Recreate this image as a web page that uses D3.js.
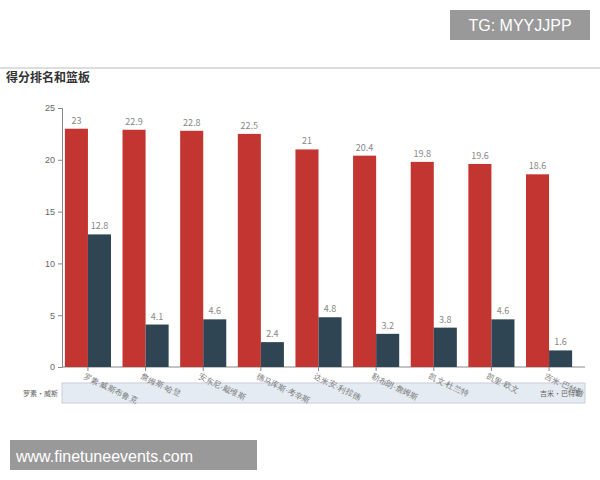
<!DOCTYPE html><html><head><meta charset="utf-8"><script src="https://cdn.jsdelivr.net/npm/d3@7"></script>
<style>body{margin:0;background:#fff;font-family:"Noto Sans CJK SC","Noto Sans",sans-serif}</style></head><body><svg width="600" height="480"></svg>
<script>
const players=["罗素·威斯布鲁克","詹姆斯·哈登","安东尼·戴维斯","德马库斯·考辛斯","达米安·利拉德","勒布朗·詹姆斯","凯文·杜兰特","凯里·欧文","吉米·巴特勒"];
const points=[23,22.9,22.8,22.5,21,20.4,19.8,19.6,18.6];
const rebounds=[12.8,4.1,4.6,2.4,4.8,3.2,3.8,4.6,1.6];
const yTicks=[0,5,10,15,20,25];
const svg=d3.select("svg");
svg.append("line").attr("x1",0).attr("x2",600).attr("y1",68).attr("y2",68).attr("stroke","#ddd").attr("stroke-width",2);
svg.append("text").attr("x",6).attr("y",82).attr("font-size",12).attr("font-weight","bold").attr("fill","#333").text("得分排名和篮板");
const x=d3.scaleBand().domain(players).range([62,575]).paddingInner(0.2).paddingOuter(0.05);
const y=d3.scaleLinear().domain([0,25]).range([367,108]);
// data zoom slider
svg.append("rect").attr("x",62).attr("y",383).attr("width",523).attr("height",20).attr("fill","#e4ebf2").attr("stroke","#ccd");
svg.append("text").attr("x",58).attr("y",396).attr("text-anchor","end").attr("font-size",7).attr("fill","#666").text("罗素·威斯");
svg.append("text").attr("x",582).attr("y",396).attr("text-anchor","end").attr("font-size",7).attr("fill","#666").text("吉米·巴特勒");
const ya=svg.append("g").attr("transform","translate(62,0)").call(d3.axisLeft(y).tickValues(yTicks).tickSize(4));
ya.selectAll("text").attr("fill","#666").attr("font-size",9);ya.selectAll("line,path").attr("stroke","#888");
const xa=svg.append("g").attr("transform","translate(0,367)").call(d3.axisBottom(x).tickSize(4));
xa.select("path").attr("d","M62,0H585").attr("stroke","#888");xa.selectAll("line").attr("stroke","#888");
xa.selectAll("text").attr("fill","#777").attr("font-size",8).attr("text-anchor","start").attr("transform","translate(0,0) rotate(25)");
const bw=x.bandwidth()/2;
const g=svg.append("g");
g.selectAll(".r").data(points).join("rect").attr("x",(d,i)=>x(players[i])).attr("width",bw).attr("y",d=>y(d)).attr("height",d=>367-y(d)).attr("fill","#c23531");
g.selectAll(".d").data(rebounds).join("rect").attr("x",(d,i)=>x(players[i])+bw).attr("width",bw).attr("y",d=>y(d)).attr("height",d=>367-y(d)).attr("fill","#2f4554");
g.selectAll(".rl").data(points).join("text").attr("x",(d,i)=>x(players[i])+bw/2).attr("y",d=>y(d)-5).attr("text-anchor","middle").attr("font-size",9).attr("fill","#888").text(d=>d);
g.selectAll(".dl").data(rebounds).join("text").attr("x",(d,i)=>x(players[i])+bw*1.5).attr("y",d=>y(d)-5).attr("text-anchor","middle").attr("font-size",9).attr("fill","#888").text(d=>d);
// overlays
svg.append("rect").attr("x",450).attr("y",10).attr("width",140).attr("height",30).attr("fill","#999");
svg.append("text").attr("x",520).attr("y",31).attr("text-anchor","middle").attr("font-size",16).attr("fill","#fff").attr("font-family","Liberation Sans").text("TG: MYYJJPP");
svg.append("rect").attr("x",10).attr("y",440).attr("width",247).attr("height",30).attr("fill","#999");
svg.append("text").attr("x",16).attr("y",462).attr("font-size",16).attr("fill","#fff").attr("font-family","Liberation Sans").text("www.finetuneevents.com");
</script></body></html>
